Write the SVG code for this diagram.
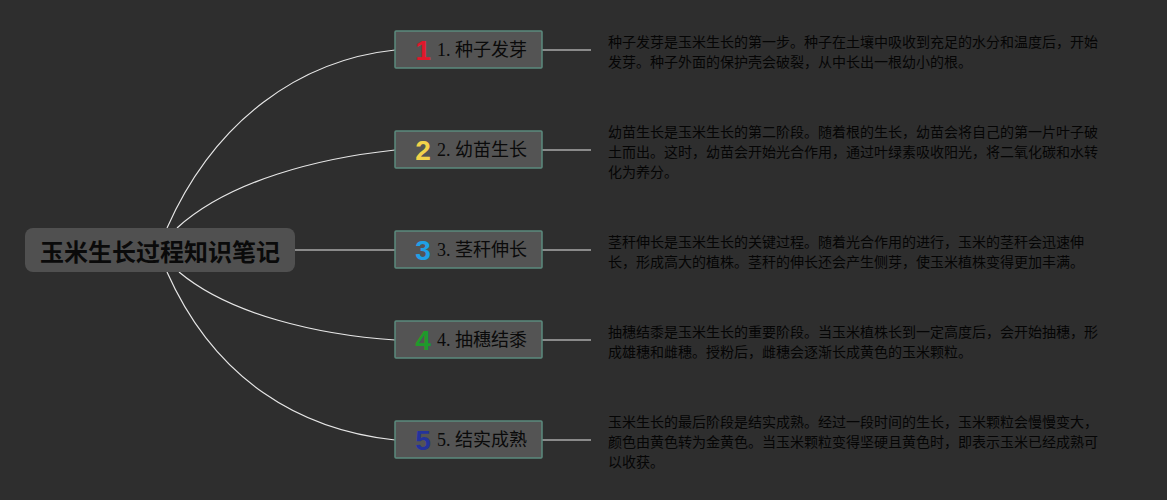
<svg xmlns="http://www.w3.org/2000/svg" width="1167" height="500" viewBox="0 0 1167 500">
<style>
.bg{fill:#2e2e2e}
.root rect{fill:#505050}
.root text{font-family:"Noto Sans CJK SC","Noto Sans",sans-serif;font-weight:bold;font-size:24px;fill:#0a0a0a;text-anchor:middle;dominant-baseline:central}
.topic rect{fill:#545454;stroke:#5b8a7d;stroke-width:1.5}
.topic .lbl{font-family:"Liberation Serif","Noto Sans CJK SC",serif;font-size:18px;fill:#0a0a0a;dominant-baseline:central}
.topic .num{font-family:"Liberation Sans","Noto Sans",sans-serif;font-weight:bold;font-size:28px;text-anchor:middle;dominant-baseline:central}
.desc text{font-family:"Noto Sans CJK SC","Noto Sans",sans-serif;font-size:14px;fill:#050505;dominant-baseline:central}
.conn path{fill:none;stroke:#e6e6e6;stroke-width:1.2}
</style>
<rect class="bg" x="0" y="0" width="1167" height="500"/>
<g id="connectors" class="conn">
<path d="M167,228 C215,120 300,60 395,50"/>
<path d="M177,228 C230,180 320,158 395,150"/>
<path d="M295,250 L395,250"/>
<path d="M179,272 C230,315 320,335 395,340"/>
<path d="M167,272 C215,380 300,430 395,440"/>
<path d="M542,50 L591,50"/>
<path d="M542,150 L591,150"/>
<path d="M542,250 L591,250"/>
<path d="M542,340 L591,340"/>
<path d="M542,440 L591,440"/>
</g>
<g id="root" class="root">
<rect x="25" y="228" width="270" height="44" rx="8"/>
<text x="160" y="250">玉米生长过程知识笔记</text>
</g>
<g id="topic1" class="topic">
<rect x="395" y="31" width="147" height="37" rx="1"/>
<text class="num" x="423" y="50" fill="#e0182b">1</text>
<text class="lbl" x="437" y="50">1. 种子发芽</text>
</g>
<g id="topic2" class="topic">
<rect x="395" y="131" width="147" height="37" rx="1"/>
<text class="num" x="423" y="150" fill="#f3d24a">2</text>
<text class="lbl" x="437" y="150">2. 幼苗生长</text>
</g>
<g id="topic3" class="topic">
<rect x="395" y="231" width="147" height="37" rx="1"/>
<text class="num" x="423" y="250" fill="#1fa0e6">3</text>
<text class="lbl" x="437" y="250">3. 茎秆伸长</text>
</g>
<g id="topic4" class="topic">
<rect x="395" y="321" width="147" height="37" rx="1"/>
<text class="num" x="423" y="340" fill="#1f9a2b">4</text>
<text class="lbl" x="437" y="340">4. 抽穗结黍</text>
</g>
<g id="topic5" class="topic">
<rect x="395" y="421" width="147" height="37" rx="1"/>
<text class="num" x="423" y="440" fill="#24339c">5</text>
<text class="lbl" x="437" y="440">5. 结实成熟</text>
</g>
<g id="desc1" class="desc">
<text x="608" y="41">种子发芽是玉米生长的第一步。种子在土壤中吸收到充足的水分和温度后，开始</text>
<text x="608" y="61">发芽。种子外面的保护壳会破裂，从中长出一根幼小的根。</text>
</g>
<g id="desc2" class="desc">
<text x="608" y="131">幼苗生长是玉米生长的第二阶段。随着根的生长，幼苗会将自己的第一片叶子破</text>
<text x="608" y="151">土而出。这时，幼苗会开始光合作用，通过叶绿素吸收阳光，将二氧化碳和水转</text>
<text x="608" y="171">化为养分。</text>
</g>
<g id="desc3" class="desc">
<text x="608" y="241">茎秆伸长是玉米生长的关键过程。随着光合作用的进行，玉米的茎秆会迅速伸</text>
<text x="608" y="261">长，形成高大的植株。茎秆的伸长还会产生侧芽，使玉米植株变得更加丰满。</text>
</g>
<g id="desc4" class="desc">
<text x="608" y="331">抽穗结黍是玉米生长的重要阶段。当玉米植株长到一定高度后，会开始抽穗，形</text>
<text x="608" y="351">成雄穗和雌穗。授粉后，雌穗会逐渐长成黄色的玉米颗粒。</text>
</g>
<g id="desc5" class="desc">
<text x="608" y="421">玉米生长的最后阶段是结实成熟。经过一段时间的生长，玉米颗粒会慢慢变大，</text>
<text x="608" y="441">颜色由黄色转为金黄色。当玉米颗粒变得坚硬且黄色时，即表示玉米已经成熟可</text>
<text x="608" y="461">以收获。</text>
</g>
</svg>
